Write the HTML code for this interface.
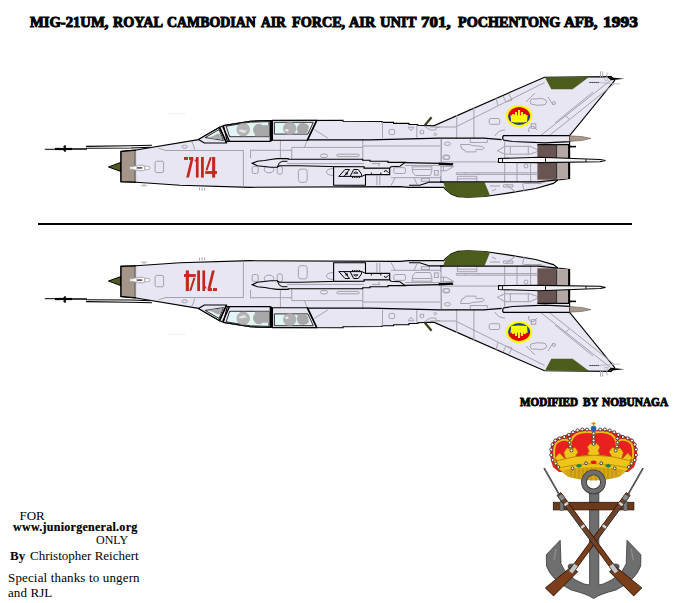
<!DOCTYPE html>
<html><head><meta charset="utf-8">
<style>
html,body{margin:0;padding:0;background:#fff;}
body{width:681px;height:603px;position:relative;overflow:hidden;}
svg{position:absolute;left:0;top:0;}
.t{position:absolute;white-space:nowrap;font-family:"Liberation Serif",serif;color:#000;line-height:1;}
.st{font-weight:bold;-webkit-text-stroke:1px #000;}
</style></head><body>
<svg width="681" height="603" viewBox="0 0 681 603">
<defs>
<g id="ac">
  <!-- pitot -->
  <g stroke="#000" fill="none">
    <path d="M44.8 149.3H56" stroke-width="1"/>
    <path d="M55 149H72" stroke-width="2.2"/>
    <path d="M72 149H87" stroke-width="1.5"/>
    <path d="M65 145.3V151.7" stroke-width="1.7"/>
    <path d="M63.6 146.3L65 149L63.6 151" stroke-width="1"/>
    <path d="M86 146.4L130 145.8L152 145.2" stroke-width="1.1"/>
    <path d="M86 148.3L131 148L150 147.3" stroke-width="1.1"/>
  </g>
  <rect x="168" y="112.9" width="18" height="1" fill="#f2f2f2"/>
  <!-- radome -->
  <path d="M108.5 167L121 162.3V171.5Z" fill="#4c5c1c" stroke="#000" stroke-width="1"/>
  <!-- fuselage body -->
  <path id="body" d="M121 151.5L136 150L198.5 139.6L219.7 127.3L223.8 125.5L250.2 121.2L270.2 120.5L343 120.3L343 121.3L382.1 121.5L382.1 122.3L393.6 122.3L393.6 123.3L409 123.3L409 124.5L417.8 124.5L417.8 125.2L433.7 125.9L544.5 77.2L611.2 76.7L614.6 80.5L569.6 135.6L569.6 145L569.6 178.5L557.8 180L553.4 183.4L535.8 188.5L509.4 192.9L490 195.8L484.6 196.5L468 197.2L458 196.6L451.4 194.2L445.7 189.6L443.6 187.4L409 187.4L400 186.7L250 187.3L180 185.3L136 182.2L121 181.7Z" fill="#e8e6f2" stroke="#000" stroke-width="1.15" stroke-linejoin="miter"/>
  <!-- nose ring -->
  <path d="M121 151.5L135.4 150.2L135.4 182.1L121 181.7Z" fill="#a39689" stroke="#000" stroke-width="1.3"/>
  <path d="M135.4 151V181.5" stroke="#c8c2c0" stroke-width="0.8"/>
  <!-- panel lines (gray) -->
  <g stroke="#a6a2ae" stroke-width="1" fill="none">
    <path d="M158.7 148.3L166 150.5H243"/>
    <path d="M243.4 150V187"/>
    <path d="M250.5 150V158"/>
    <path d="M250 150.3H292"/>
    <path d="M291.8 159V147.4H362.8"/>
    <path d="M280.4 140.5V159"/>
    <path d="M362.8 139V160"/>
    <path d="M362.8 146H440"/>
    <path d="M382.5 122V138.5"/>
    <path d="M416.8 125V138.5"/>
    <path d="M441 139V181"/>
    <path d="M304.4 147.3L307.3 140.3"/>
    <path d="M314.4 129.6L327.9 138.1"/>
    <path d="M191.5 141.5Q194 145 194.6 149.7"/>
    <ellipse cx="184.6" cy="146.7" rx="2.7" ry="1.5"/>
    <ellipse cx="324" cy="155.8" rx="3.7" ry="1.9"/>
    <path d="M338 154.2H358Q361 155.4 358 156.6H338Q335 155.4 338 154.2Z"/>
    <rect x="155.1" y="161.2" width="8.5" height="11.4" rx="1.6"/>
    <rect x="298.4" y="169.1" width="8.8" height="13.2" rx="2.5"/>
    <path d="M333 168.5Q326.5 169 326.5 172Q326.5 175 333 175.5"/>
    <rect x="252.2" y="166.5" width="6" height="7" rx="1.5"/>
    <ellipse cx="269" cy="169.5" rx="4.7" ry="3.3"/>
    <rect x="277.3" y="166.5" width="5" height="7.5" rx="1.5"/>
    <rect x="393.8" y="167.6" width="11.7" height="5.9" rx="1.8"/>
    <rect x="443" y="155.1" width="6.6" height="4.4" rx="1.8"/>
    <path d="M376.9 176V185M379.8 176V185"/>
    <path d="M412 166.8H432L431.6 172L430.2 175.5H415.3L412.6 172Z"/>
    <path d="M413 169.5H431"/>
    <path d="M391 177.7H440.8V182"/>
    <path d="M414 177.7L417 184.3"/>
    <rect x="421.4" y="178.6" width="8" height="2.7"/>
    <rect x="434.6" y="170.5" width="3.6" height="4.6"/>
    <path d="M391 185.5L395 178"/>
    <rect x="389" y="129.5" width="5.7" height="5.1" rx="1.3"/>
    <path d="M408 127.2H414L411 130.7Z"/>
    <path d="M420.2 133.8V131L421.9 129.8L423.6 131V133.8Z"/>
    <path d="M435.3 132.8L436.8 134.4L435.3 136L433.8 134.4Z"/>
    <path d="M424 125.9L427.6 128.4L430.6 130H435.8L436.3 127.4H440"/>
    <path d="M441.5 139V162"/>
    <ellipse cx="447.5" cy="143.8" rx="3" ry="1.7"/>
    <ellipse cx="446.5" cy="157.4" rx="3" ry="2"/>
    <path d="M460.4 144.5H470L471.8 145.5L482.8 146.5L484.3 148L482.8 149.4H476.3L475.8 151.9H465.4L464.9 150.4L461.9 149Z"/>
    <path d="M470.3 139.2V142.5H487.3V139.5"/>
    <path d="M441 161.9H500"/>
    <path d="M440 166.4H453.9L446 170.8H440M443.5 166V171"/>
    <path d="M456.4 172.8H537M456.4 174.4H537M456.4 172.8V174.4M465.4 172.8V174.4M478.3 172.8V174.4"/>
    <path d="M457.4 181.8V176.3H476.8V181.8M457.4 178.8H476.8"/>
    <path d="M440.5 176V182"/>
    <path d="M497.3 150.8L505 146.3H530L539.6 150.8L530 154.2H505Z"/>
    <path d="M510.3 146.3V154.2M528.3 146.3V154.2"/>
    <path d="M504.7 140V182M517 162V182M530.6 162V182"/>
    <circle cx="526" cy="166" r="2"/>
    <path d="M503.5 184.8H513V187H503.5ZM506.4 185L516 192.2M522.6 183.4L524 191.4M524 183.4H541.7M537 183.4L545 182"/>
    <path d="M490 186H500M492 191L496 189"/>
    <path d="M456.7 126.5L544.5 82.6"/>
    <path d="M456.7 115V139M473.9 107V139M430 127H456.7"/>
    <path d="M496 98L498 105.5"/>
    <path d="M503 96L506 102L512 100L509 94"/>
    <rect x="489.2" y="118.5" width="10.5" height="5.8" rx="1.5"/>
    <path d="M530.2 101Q531 98 536 99Q541 97 546 100Q548 104 543 105Q537 106 531 104Z"/>
    <path d="M540 136L611 80M550 135L614 84"/>
    <path d="M555 123L593 92M566 116L570 120"/>
    <path d="M526 102L535 93M548 97L553 105"/>
    <circle cx="554" cy="103" r="1.5"/>
    <path d="M529 132Q527 127 533 126L537 130"/>
    <rect x="531.2" y="123.7" width="4.6" height="4.6"/>
    <path d="M495 136Q498 130 505 130"/>
  </g>
  <!-- probe -->
  <g stroke="#a09ca6" stroke-width="0.8">
    <rect x="129.5" y="166.7" width="5.5" height="2.5" rx="1.2" fill="#fbfbfd"/>
    <rect x="136.4" y="165.3" width="8.4" height="5.3" rx="0.8" fill="#fbfbfd"/>
    <rect x="144.6" y="166.3" width="5.2" height="3.3" rx="1.6" fill="#fbfbfd"/>
  </g>
  <rect x="133.5" y="166.2" width="3" height="3.6" rx="1.2" fill="#fbfbfd"/>
  <rect x="137" y="167.2" width="5.2" height="1.4" fill="#4a3a2c"/>
  <path d="M141 185.8H147M144 182.5V185.8" stroke="#a6a2ae" stroke-width="0.9"/>
  <path d="M199.5 187.5V190.5M202 187.5V191M204.5 187.8V190.5" stroke="#a6a2ae" stroke-width="0.9"/>
  <!-- canopy -->
  <path d="M198.5 139.6L219.7 127.3L226.7 143L204.4 143Z" fill="#e8e6f2" stroke="#000" stroke-width="1.1" stroke-linejoin="round"/>
  <path d="M205.2 137.6L219 129.6L223.4 140.4Z" fill="#e2f4f4" stroke="#000" stroke-width="0.8"/>
  <path d="M207.5 138L213 136L218 133.5L220.5 134.5L222.5 139.6Z" fill="#aaaaaa"/>
  <path d="M223.5 125.6L250.2 121.3L270.2 120.6L270.2 141.4L227.3 141.4Z" fill="#e8e6f2" stroke="#000" stroke-width="1.1"/>
  <path d="M226.2 126.2L250.2 122.2L269 121.6L269 136.7L229.6 136.7Z" fill="#e2f4f4" stroke="#000" stroke-width="0.8"/>
  <circle cx="243.2" cy="129.6" r="6.3" fill="#b4b4b4" stroke="#9c9c9c" stroke-width="0.6"/>
  <path d="M238.5 131Q241 128.5 244 130.5L247 130L244.5 133Z" fill="#e8e8e8"/>
  <path d="M255 134.5Q250.5 129 256 124.5Q260 122.5 262.5 125.3L269 125.3L269 136.2L255 136.2Z" fill="#a8a8a8"/>
  <path d="M219.3 127.4L226.3 142.8" stroke="#000" stroke-width="1.4"/>
  <path d="M222.7 126.4L229.4 141.3" stroke="#000" stroke-width="1.4"/>
  <rect x="270.1" y="120.4" width="2" height="21" fill="#000"/>
  <path d="M272.5 120.4L316.7 120.4L307.3 140.3L272.5 140.3Z" fill="#e8e6f2" stroke="#000" stroke-width="1.1"/>
  <path d="M274.4 122.3L313.3 122.3L307.9 134.1L274.4 134.1Z" fill="#e2f4f4" stroke="#000" stroke-width="0.8"/>
  <circle cx="289.7" cy="128.4" r="6.2" fill="#b0b0b0" stroke="#9c9c9c" stroke-width="0.6"/>
  <path d="M284.5 130Q286.5 128 289 130L287 132Z" fill="#e8e8e8"/>
  <path d="M298 133.5Q295 127 300 123.5Q306 122 309 126L308 131L306.5 133.6Z" fill="#a8a8a8"/>
  <path d="M316.7 120.5L307.3 140.3" stroke="#000" stroke-width="1.6"/>
  <path d="M307 139.8H370L440 138.2L484 138.2L501.7 139.7" stroke="#000" stroke-width="1.3" fill="none"/>
  <!-- wing band -->
  <path d="M252.2 163.3L257.3 161.3L264.7 160.5L270.6 159.5L277.2 158.6H288.2V159.3H362.6V160.3H370V161.2H388V162.4H405L400 166.3L391 166.8L389.5 168.3H364V167.4L330 166.5L300 165.7H279.4L277.2 167.2H270.6L257.3 165.7Z" fill="#e8e6f2" stroke="#000" stroke-width="1.1"/>
  <path d="M277.2 167.2L279.4 162.8L282.3 161.3H287.4" stroke="#000" stroke-width="1" fill="none"/>
  <path d="M287 163.6H364" stroke="#a6a2ae" stroke-width="1"/>
  <path d="M372 163.5H380L378 166" stroke="#a6a2ae" stroke-width="1" fill="none"/>
  <path d="M404 162.6L440 163.3" stroke="#000" stroke-width="1.2"/>
  <path d="M438.7 162.6L453.5 163.2L452.5 165.4L438.7 165Z" fill="#000"/>
  <path d="M405 165.5H440" stroke="#a6a2ae" stroke-width="1"/>
  <!-- gun pod -->
  <path d="M333.6 166.8H364V168.3H389.7V174.6H365.5V185.2H333.6Z" fill="#e8e6f2" stroke="#000" stroke-width="1.1"/>
  <path d="M338.8 176.4L345 169.5H349.6L344 176.4" fill="none" stroke="#000" stroke-width="1"/>
  <rect x="345.6" y="172.4" width="2.2" height="2.2" fill="#000"/>
  <path d="M350.1 176.4L353.7 169.5H358.3L361.4 174L361.9 176.4" fill="none" stroke="#000" stroke-width="1"/>
  <path d="M353.6 173.2Q355.8 170.2 358 173.2Z" fill="none" stroke="#000" stroke-width="0.8"/>
  <path d="M352 177.5H361" stroke="#000" stroke-width="1" stroke-dasharray="1,0.8"/>
  <path d="M338.8 176.4H361.9L365.5 174.6" stroke="#000" stroke-width="1" fill="none"/>
  <path d="M384 171.8Q386 169 388.5 172.8" fill="none" stroke="#000" stroke-width="1"/>
  <path d="M371.4 172.6V174.6M380.8 172.6V174.6" stroke="#000" stroke-width="1"/>
  <!-- chute housing -->
  <path d="M503.5 135.6H569.6V141.7L545 142.8L512.5 141.5L503.5 140Q501.8 137.8 503.5 135.6Z" fill="#e8e6f2" stroke="#000" stroke-width="1.2"/>
  <path d="M569.6 135.8L582 136.6L591 138.4L582 140.4L569.6 141.5Z" fill="#a8998b" stroke="#6a6058" stroke-width="0.6"/>
  <path d="M565 146.6H576" stroke="#000" stroke-width="1.6"/>
  <!-- exhaust -->
  <rect x="537.4" y="144.7" width="19" height="35" fill="#685551"/>
  <rect x="556.4" y="144.7" width="12.3" height="34" fill="#b4a8a5"/>
  <path d="M556.6 144.7V178.7" stroke="#2a2a2a" stroke-width="1"/>
  <path d="M568.7 144.7V178.7M537.4 144.7H569" stroke="#000" stroke-width="1.2"/>
  <!-- missile rail -->
  <path d="M498.5 158.5L540 157.3L600 159.5L605.5 160.5L600 161.7L540 162.6L498.5 162.4Z" fill="#f4f3f8" stroke="#000" stroke-width="1.1"/>
  <path d="M502.5 158.5V162.4M545.5 157.8V162.6M586 159V162" stroke="#000" stroke-width="0.9"/>
  <!-- green fin tip -->
  <path d="M545 77.4L589 77.1L572.6 89.3H551.3Z" fill="#4c5c1c"/>
  <path d="M607 77.1L624.5 78.8L611 80.3Z" fill="#000"/>
  <path d="M600.5 71.3V77M602.7 71.3V77M607 72.5V77" stroke="#a8a6b0" stroke-width="0.9"/>
  <path d="M589.5 82.5H599" stroke="#000" stroke-width="1" stroke-dasharray="1.2,0.8"/>
  <path d="M599 82.5L620 84" stroke="#b0aeb8" stroke-width="0.8"/>
  <rect x="604.9" y="77.6" width="2.4" height="2.8" fill="none" stroke="#b0aeb8" stroke-width="0.7"/>
  <!-- ventral green -->
  <path d="M443.2 182.3H484.6L490 195.6L484 196.8L466 197.2L458 196.6L451.4 194.2L445.7 189.6Z" fill="#4c5c1c"/>
  <path d="M409 185.2H419.7L426.7 183L429.4 182.1H443.5" stroke="#000" stroke-width="1.1" fill="none"/>
  <path d="M440 181.8L537.3 181.9L557.8 179.8" stroke="#000" stroke-width="1.2" fill="none"/>
  <!-- antenna -->
  <path d="M424.8 125.3L431.6 117.2" stroke="#34401a" stroke-width="2.2"/>
  <!-- roundel -->
  <ellipse cx="519.1" cy="116" rx="13.1" ry="11" fill="#ffff00"/>
  <clipPath id="rc"><ellipse cx="519.1" cy="116" rx="11" ry="9"/></clipPath>
  <g clip-path="url(#rc)">
    <rect x="506" y="105" width="27" height="10" fill="#e00000"/>
    <rect x="506" y="114.9" width="27" height="12" fill="#203c98"/>
    <path d="M510.5 115.2H527.7L527 121.9Q519.1 123.1 511.2 121.9Z" fill="#ffff00"/>
    <path d="M512.1 114H514.5V118H512.1ZM515 112H517V118H515ZM517.9 110H520.1V118H517.9ZM521 112H523V118H521ZM523.5 114H525.9V118H523.5Z" fill="#ffff00"/>
  </g>
</g>
<g id="num" fill="#c2281c">
  <rect x="184" y="157" width="4" height="2.9"/><rect x="189" y="157" width="4.3" height="2.9"/>
  <path d="M190.6 159.5H193.3L189 177.6H186.2Z"/>
  <rect x="195.9" y="157" width="2.7" height="20.6"/><rect x="194.7" y="159.6" width="1.4" height="1.8"/>
  <rect x="201" y="157" width="2.8" height="20.6"/>
  <rect x="212.1" y="157" width="3.1" height="20.6"/><rect x="205.2" y="171.1" width="11.8" height="2.8"/>
  <path d="M209.7 157.3H211.8L207.6 170.2H205.5Z"/>
</g>
</defs>
<use href="#ac"/>
<use href="#num"/>
<use href="#ac" transform="matrix(1 0 0 -1 0 448)"/>
<use href="#num" transform="matrix(-1 0 0 -1 401 448)"/>
<!-- separator -->
<rect x="38" y="223" width="594" height="2" fill="#000"/>
<!-- emblem -->
<g id="emblem">
  <!-- anchor -->
  <path d="M546.5 566 L546.3 554.7 L560.2 540.2 L561 563.6 Q566 577 584 584 L589.6 585 L589.6 492 L598.8 492 L598.8 585 L603.2 584 Q621.2 577 626.2 563.6 L627 540.2 L640.9 554.7 L640.7 566 Q636 580 616 590 Q600 594 593.6 598.5 Q587.2 594 571.2 590 Q551.2 580 546.5 566Z" fill="#6e6e6e" stroke="#383838" stroke-width="0.8"/>
  <path d="M554 560 L556 549 M633.2 560 L631.2 549" stroke="#8a8a8a" stroke-width="1.5"/>
  <ellipse cx="571.5" cy="566.5" rx="3.5" ry="2.6" fill="#5a5a5a" stroke="#303030" stroke-width="0.6"/>
  <ellipse cx="615.7" cy="566.5" rx="3.5" ry="2.6" fill="#5a5a5a" stroke="#303030" stroke-width="0.6"/>
  <!-- crown -->
  <path d="M553 467 Q549 456 550.8 447 Q552 440 558 437.5 Q564 436 570 433 Q578 429.5 585 429.3 Q590 429.5 593.6 431 Q597.2 429.5 602.2 429.3 Q609.2 429.5 617.2 433 Q623.2 436 629.2 437.5 Q635.2 440 636.4 447 Q638.2 456 634.2 467 L628 472 L559 472Z" fill="#e8201e"/>
  <g fill="none" stroke="#ebbc12" stroke-width="2">
    <path d="M555.5 465 Q552.5 452 555.5 444 Q559 440 565 439.5 Q570 440 570.5 447 L572 456"/>
    <path d="M631.7 465 Q634.7 452 631.7 444 Q628.2 440 622.2 439.5 Q617.2 440 616.7 447 L615.2 456"/>
    <path d="M570.5 446 Q570 436 580 432.8 Q588 431 593.6 433 Q599.2 431 607.2 432.8 Q617.2 436 616.7 446"/>
    <path d="M593.6 433 V452"/>
  </g>
  <g fill="#f0c418" stroke="#b08808" stroke-width="0.5">
    <path d="M587.5 447 L590.5 443.5 L593.6 445 L596.7 443.5 L599.7 447 L598 451 L599.7 454 L593.6 457 L587.5 454 L589.2 451Z"/>
    <path d="M564 452.5 L567 448 L571 449.5 L575 447.5 L578 452 L575.5 456 L577 459 L569 460 L565.5 458Z"/>
    <path d="M623.2 452.5 L620.2 448 L616.2 449.5 L612.2 447.5 L609.2 452 L611.7 456 L610.2 459 L618.2 460 L621.7 458Z"/>
    <path d="M555 458 L559.5 453 L564.5 458.5 L561 464Z"/>
    <path d="M632.2 458 L627.7 453 L622.7 458.5 L626.2 464Z"/>
  </g>
  <path d="M556 461 Q593.6 449.5 631.2 461 L629 468.5 L619 476.5 Q593.6 483.5 568.2 476.5 L558.2 468.5Z" fill="#f0c418" stroke="#a07808" stroke-width="0.7"/>
  <path d="M559 467.8 Q593.6 459.5 628.2 467.8" fill="none" stroke="#b08808" stroke-width="0.8"/>
  <path d="M563 470 Q593.6 464 624.2 470 L619 476.5 Q593.6 483.5 568.2 476.5Z" fill="#d8a814"/>
  <path d="M571 470V476M575 469V478M579 468.5V479M583 468V480M587 467.5V480.5M591 467.5V481M596 467.5V481M600 467.5V480.5M604 468V480M608 468.5V479M612 469V478M616 470V476.5" stroke="#a07808" stroke-width="0.6"/>
  <ellipse cx="593.6" cy="462.3" rx="2.9" ry="1.8" fill="#e01818"/>
  <path d="M575.5 466 L579 463.8 L582.5 466 L579 467.8Z" fill="#10884a"/>
  <path d="M611.7 466 L608.2 463.8 L604.7 466 L608.2 467.8Z" fill="#10884a"/>
  <g fill="#f4f4f4" stroke="#1c1c1c" stroke-width="0.75"><circle cx="552.6" cy="460.0" r="1.55"/><circle cx="551.3" cy="455.0" r="1.55"/><circle cx="551.2" cy="449.5" r="1.55"/><circle cx="552.4" cy="444.5" r="1.55"/><circle cx="555.3" cy="440.6" r="1.55"/><circle cx="559.5" cy="438.3" r="1.55"/><circle cx="564.3" cy="437.0" r="1.55"/><circle cx="568.8" cy="434.8" r="1.55"/><circle cx="573.0" cy="432.2" r="1.55"/><circle cx="577.5" cy="430.4" r="1.55"/><circle cx="582.3" cy="429.5" r="1.55"/><circle cx="587.0" cy="429.6" r="1.55"/><circle cx="634.6" cy="460.0" r="1.55"/><circle cx="635.9" cy="455.0" r="1.55"/><circle cx="636.0" cy="449.5" r="1.55"/><circle cx="634.8" cy="444.5" r="1.55"/><circle cx="631.9" cy="440.6" r="1.55"/><circle cx="627.7" cy="438.3" r="1.55"/><circle cx="622.9" cy="437.0" r="1.55"/><circle cx="618.4" cy="434.8" r="1.55"/><circle cx="614.2" cy="432.2" r="1.55"/><circle cx="609.7" cy="430.4" r="1.55"/><circle cx="604.9" cy="429.5" r="1.55"/><circle cx="600.2" cy="429.6" r="1.55"/><circle cx="593.6" cy="433.5" r="1.45"/><circle cx="593.6" cy="437.0" r="1.45"/><circle cx="593.6" cy="440.5" r="1.45"/><circle cx="593.6" cy="444.0" r="1.45"/><circle cx="569.8" cy="438.5" r="1.45"/><circle cx="569.6" cy="442.5" r="1.45"/><circle cx="570.2" cy="446.5" r="1.45"/><circle cx="571.5" cy="450.5" r="1.45"/><circle cx="555.8" cy="463.5" r="1.45"/><circle cx="558.3" cy="467.0" r="1.45"/><circle cx="617.4" cy="438.5" r="1.45"/><circle cx="617.6" cy="442.5" r="1.45"/><circle cx="617.0" cy="446.5" r="1.45"/><circle cx="615.7" cy="450.5" r="1.45"/><circle cx="631.4" cy="463.5" r="1.45"/><circle cx="628.9" cy="467.0" r="1.45"/>
    <circle cx="572.5" cy="468.3" r="1.4"/><circle cx="586" cy="463.2" r="1.4"/><circle cx="601.2" cy="463.2" r="1.4"/><circle cx="614.7" cy="468.3" r="1.4"/>
  </g>
  <circle cx="593.6" cy="428.6" r="2.8" fill="#2060c0"/>
  <path d="M593.6 421.8V426.5M591.4 423.6H595.8" stroke="#c89800" stroke-width="1.4"/>
  <!-- ring -->
  <circle cx="593.5" cy="481.9" r="9.5" fill="none" stroke="#383838" stroke-width="5.8"/>
  <circle cx="593.5" cy="481.9" r="9.5" fill="none" stroke="#6e6e6e" stroke-width="4.2"/>
  <!-- stock -->
  <rect x="553.3" y="502.3" width="80.6" height="7.6" fill="#6c3a1a" stroke="#2a1408" stroke-width="0.8"/>
  <rect x="559.9" y="501" width="3.8" height="9.5" rx="1.2" fill="#7a7a7a" stroke="#383838" stroke-width="0.5"/>
  <rect x="623.5" y="501" width="3.8" height="9.5" rx="1.2" fill="#7a7a7a" stroke="#383838" stroke-width="0.5"/>
  <!-- rifles -->
  <path d="M626.3 492.6 L570.5 568.6 L574.2 571.4 L630.1 495.4Z" fill="#7a3e1a" stroke="#2a1408" stroke-width="0.9"/><path d="M571.3 566.8 L545.4 587.9 L553.5 595.9 L577.7 571.7Z" fill="#7a3e1a" stroke="#2a1408" stroke-width="0.9"/><path d="M643.1 468.2L628.1 494.4" stroke="#202020" stroke-width="1.6"/><path d="M643.1 468.2L628.1 494.4" stroke="#b0b0b0" stroke-width="0.5"/><path d="M629.2 494.8L592.5 544.7" stroke="#505050" stroke-width="1.4"/><path d="M627.0 495.6L624.1 499.6" stroke="#404040" stroke-width="5.6"/><path d="M627.0 495.6L624.1 499.6" stroke="#8a8a8a" stroke-width="4.2"/><path d="M621.7 502.9L620.2 504.9" stroke="#404040" stroke-width="5.6"/><path d="M621.7 502.9L620.2 504.9" stroke="#d8d8d8" stroke-width="4.2"/><path d="M605.1 525.4L603.6 527.4" stroke="#404040" stroke-width="5.6"/><path d="M605.1 525.4L603.6 527.4" stroke="#d8d8d8" stroke-width="4.2"/><path d="M576.1 564.9L570.7 572.2" stroke="#404040" stroke-width="5.6"/><path d="M576.1 564.9L570.7 572.2" stroke="#c4c4c4" stroke-width="4.2"/>
  <path d="M560.9 492.6 L616.7 568.6 L613.0 571.4 L557.1 495.4Z" fill="#7a3e1a" stroke="#2a1408" stroke-width="0.9"/><path d="M615.9 566.8 L641.8 587.9 L633.7 595.9 L609.5 571.7Z" fill="#7a3e1a" stroke="#2a1408" stroke-width="0.9"/><path d="M544.1 468.2L559.1 494.4" stroke="#202020" stroke-width="1.6"/><path d="M544.1 468.2L559.1 494.4" stroke="#b0b0b0" stroke-width="0.5"/><path d="M558.0 494.8L594.7 544.7" stroke="#505050" stroke-width="1.4"/><path d="M560.2 495.6L563.1 499.6" stroke="#404040" stroke-width="5.6"/><path d="M560.2 495.6L563.1 499.6" stroke="#8a8a8a" stroke-width="4.2"/><path d="M565.5 502.9L567.0 504.9" stroke="#404040" stroke-width="5.6"/><path d="M565.5 502.9L567.0 504.9" stroke="#d8d8d8" stroke-width="4.2"/><path d="M582.1 525.4L583.6 527.4" stroke="#404040" stroke-width="5.6"/><path d="M582.1 525.4L583.6 527.4" stroke="#d8d8d8" stroke-width="4.2"/><path d="M611.1 564.9L616.5 572.2" stroke="#404040" stroke-width="5.6"/><path d="M611.1 564.9L616.5 572.2" stroke="#c4c4c4" stroke-width="4.2"/>
</g>
</svg>
<div class="t st" style="left:29.90px;top:15.1px;font-size:15px;transform:scaleX(0.975);transform-origin:0 0;">MIG-21UM,</div>
<div class="t st" style="left:113.20px;top:15.1px;font-size:15px;transform:scaleX(0.947);transform-origin:0 0;">ROYAL</div>
<div class="t st" style="left:166.97px;top:15.1px;font-size:15px;transform:scaleX(0.927);transform-origin:0 0;">CAMBODIAN</div>
<div class="t st" style="left:261.20px;top:15.1px;font-size:15px;transform:scaleX(0.904);transform-origin:0 0;">AIR</div>
<div class="t st" style="left:292.00px;top:15.1px;font-size:15px;transform:scaleX(0.945);transform-origin:0 0;">FORCE,</div>
<div class="t st" style="left:349.40px;top:15.1px;font-size:15px;transform:scaleX(0.957);transform-origin:0 0;">AIR</div>
<div class="t st" style="left:380.20px;top:15.1px;font-size:15px;transform:scaleX(0.974);transform-origin:0 0;">UNIT</div>
<div class="t st" style="left:421.37px;top:15.1px;font-size:15px;transform:scaleX(1.128);transform-origin:0 0;">701,</div>
<div class="t st" style="left:457.90px;top:15.1px;font-size:15px;transform:scaleX(0.946);transform-origin:0 0;">POCHENTONG</div>
<div class="t st" style="left:564.30px;top:15.1px;font-size:15px;transform:scaleX(0.991);transform-origin:0 0;">AFB,</div>
<div class="t st" style="left:603.44px;top:15.1px;font-size:15px;transform:scaleX(1.162);transform-origin:0 0;">1993</div>
<div class="t st" style="left:520.20px;top:395.2px;font-size:13px;transform:scaleX(0.855);transform-origin:0 0;">MODIFIED</div>
<div class="t st" style="left:583.10px;top:395.2px;font-size:13px;transform:scaleX(0.868);transform-origin:0 0;">BY</div>
<div class="t st" style="left:602.40px;top:395.2px;font-size:13px;transform:scaleX(0.872);transform-origin:0 0;">NOBUNAGA</div>
<div class="t" style="left:19.5px;top:509px;font-size:13px;">FOR</div>
<div class="t" style="left:13px;top:521px;font-size:12px;font-weight:bold;letter-spacing:0.28px;-webkit-text-stroke:0.2px #000;">www.juniorgeneral.org</div>
<div class="t" style="left:96px;top:534px;font-size:12px;">ONLY</div>
<div class="t" style="left:10px;top:549px;font-size:13px;font-weight:bold;">By</div>
<div class="t" style="left:30px;top:549px;font-size:13px;">Christopher Reichert</div>
<div class="t" style="left:8px;top:571px;font-size:13px;letter-spacing:0.15px;">Special thanks to ungern</div>
<div class="t" style="left:8px;top:586px;font-size:13px;letter-spacing:0.1px;">and RJL</div>
</body></html>
